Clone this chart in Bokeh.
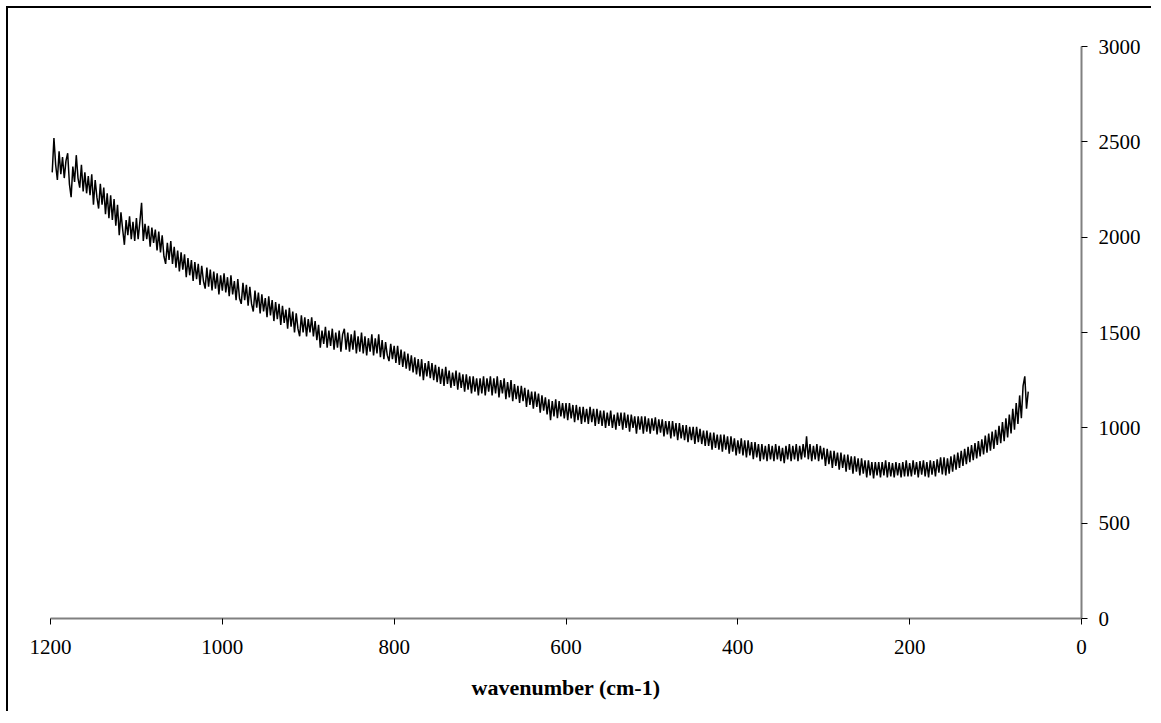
from bokeh.plotting import figure
from bokeh.models import Range1d, FixedTicker
from bokeh.embed import file_html
from bokeh.resources import INLINE

# wavenumber samples (cm-1), descending, every 2 cm-1 from 1198 to 62
wavenumber = list(range(1198, 61, -2))

# intensity
intensity = [
    # 1198 .. 1100
    2340, 2520, 2380, 2300, 2450, 2330, 2420, 2310, 2400, 2440,
    2280, 2210, 2370, 2290, 2430, 2310, 2260, 2380, 2240, 2340,
    2230, 2320, 2220, 2330, 2170, 2300, 2210, 2150, 2280, 2170,
    2260, 2120, 2230, 2100, 2220, 2090, 2200, 2060, 2170, 2010,
    2130, 2040, 1960, 2090, 2010, 2110, 1990, 2080, 1980, 2100,
    # 1098 .. 1000
    1990, 2080, 2180, 1980, 2070, 1990, 2060, 1950, 2050, 1970,
    2040, 1930, 2030, 1920, 2010, 1900, 1860, 1970, 1880, 1980,
    1860, 1950, 1840, 1930, 1820, 1920, 1830, 1910, 1790, 1890,
    1800, 1880, 1770, 1870, 1780, 1860, 1750, 1850, 1770, 1730,
    1840, 1740, 1830, 1720, 1820, 1730, 1810, 1700, 1800, 1720,
    # 998 .. 900
    1810, 1710, 1790, 1690, 1800, 1700, 1770, 1670, 1780, 1680,
    1650, 1760, 1670, 1750, 1640, 1740, 1650, 1610, 1720, 1630,
    1710, 1600, 1700, 1610, 1680, 1580, 1690, 1590, 1670, 1560,
    1660, 1570, 1650, 1540, 1640, 1550, 1620, 1520, 1630, 1530,
    1610, 1500, 1600, 1520, 1480, 1590, 1500, 1580, 1480, 1570,
    # 898 .. 800
    1500, 1580, 1480, 1560, 1460, 1540, 1420, 1510, 1440, 1530,
    1420, 1510, 1430, 1520, 1410, 1500, 1420, 1510, 1400, 1490,
    1520, 1410, 1500, 1400, 1490, 1410, 1510, 1390, 1480, 1400,
    1500, 1390, 1480, 1380, 1470, 1400, 1490, 1380, 1470, 1390,
    1490, 1370, 1460, 1360, 1450, 1380, 1350, 1440, 1360, 1430,
    # 798 .. 700
    1340, 1430, 1330, 1410, 1320, 1400, 1310, 1390, 1300, 1380,
    1290, 1370, 1280, 1360, 1270, 1360, 1250, 1340, 1270, 1350,
    1260, 1340, 1250, 1330, 1240, 1320, 1230, 1310, 1220, 1320,
    1230, 1300, 1210, 1290, 1220, 1300, 1200, 1290, 1210, 1280,
    1190, 1280, 1200, 1270, 1180, 1270, 1190, 1260, 1170, 1260,
    # 698 .. 600
    1180, 1270, 1170, 1260, 1190, 1270, 1170, 1260, 1180, 1270,
    1160, 1250, 1180, 1260, 1150, 1240, 1160, 1250, 1140, 1230,
    1150, 1220, 1130, 1220, 1140, 1210, 1110, 1200, 1120, 1190,
    1100, 1190, 1110, 1180, 1080, 1170, 1090, 1160, 1070, 1150,
    1040, 1140, 1060, 1150, 1050, 1140, 1060, 1130, 1050, 1130,
    # 598 .. 500
    1040, 1130, 1050, 1120, 1030, 1120, 1040, 1110, 1020, 1110,
    1030, 1100, 1020, 1110, 1030, 1100, 1010, 1100, 1020, 1090,
    1010, 1090, 1000, 1080, 1010, 1090, 1000, 1070, 990, 1080,
    1010, 1080, 990, 1080, 1000, 1070, 980, 1070, 1000, 1060,
    970, 1060, 990, 1060, 970, 1060, 980, 1050, 970, 1050,
    # 498 .. 400
    985, 1055, 965, 1045, 975, 1045, 955, 1035, 965, 1035,
    945, 1035, 955, 1025, 935, 1025, 945, 1015, 935, 1015,
    925, 1005, 935, 1005, 915, 1005, 925, 995, 915, 985,
    905, 985, 905, 975, 885, 975, 895, 965, 885, 965,
    875, 965, 885, 955, 865, 955, 875, 945, 855, 935,
    # 398 .. 300
    865, 945, 855, 935, 845, 935, 855, 925, 835, 925,
    845, 915, 825, 915, 835, 905, 825, 915, 835, 905,
    825, 915, 835, 905, 825, 895, 815, 905, 835, 915,
    825, 905, 835, 915, 825, 905, 835, 915, 845, 955,
    835, 915, 825, 905, 835, 915, 825, 905, 835, 895,
    # 298 .. 200
    800, 890, 810, 880, 790, 880, 800, 870, 780, 870,
    790, 860, 770, 860, 780, 850, 760, 850, 770, 840,
    750, 840, 760, 830, 740, 830, 750, 820, 735, 820,
    750, 820, 740, 820, 750, 830, 740, 820, 745, 815,
    740, 820, 750, 815, 740, 820, 745, 830, 745, 815,
    # 198 .. 100
    745, 830, 755, 820, 740, 825, 755, 830, 745, 820,
    740, 830, 755, 825, 745, 835, 765, 845, 755, 845,
    750, 840, 760, 850, 770, 860, 780, 870, 790, 880,
    800, 890, 810, 900, 820, 910, 830, 920, 840, 930,
    850, 940, 860, 960, 870, 970, 880, 980, 890, 990,
    # 98 .. 62
    910, 1010, 920, 1030, 930, 1050, 950, 1070, 970, 1100,
    990, 1130, 1020, 1170, 1050, 1220, 1270, 1100, 1190,
]

x_ticks = [0, 200, 400, 600, 800, 1000, 1200]
y_ticks = [0, 500, 1000, 1500, 2000, 2500, 3000]
x_title = "wavenumber (cm-1)"

p = figure(
    width=1145, height=705,
    output_backend="svg", toolbar_location=None,
    x_range=Range1d(1200, 0), y_range=Range1d(0, 3000),
    x_axis_location="below", y_axis_location="right",
    min_border_left=42, min_border_right=72,
    min_border_top=38, min_border_bottom=95,
)
p.styles = {
    "border-left": "2px solid black",
    "border-top": "2px solid black",
    "margin-left": "6px",
    "margin-top": "6px",
}
p.outline_line_color = None
p.xgrid.visible = False
p.ygrid.visible = False
p.background_fill_color = "white"
p.border_fill_color = "white"

p.line(wavenumber, intensity, line_color="black", line_width=1.5)

for ax in (p.xaxis[0], p.yaxis[0]):
    ax.axis_line_color = "#808080"
    ax.axis_line_width = 2
    ax.major_tick_line_color = "black"
    ax.major_tick_line_width = 1
    ax.major_tick_out = 6
    ax.major_tick_in = 0
    ax.minor_tick_line_color = None
    ax.major_label_text_font = "Liberation Serif"
    ax.major_label_text_font_size = "21px"
    ax.major_label_text_color = "black"

p.xaxis[0].ticker = FixedTicker(ticks=x_ticks)
p.yaxis[0].ticker = FixedTicker(ticks=y_ticks)
p.xaxis[0].major_label_standoff = 15
p.yaxis[0].major_label_standoff = 11

p.xaxis[0].axis_label = x_title
p.xaxis[0].axis_label_text_font = "Liberation Serif"
p.xaxis[0].axis_label_text_font_style = "bold"
p.xaxis[0].axis_label_text_font_size = "22px"
p.xaxis[0].axis_label_text_color = "black"
p.xaxis[0].axis_label_standoff = 18

open("out.html", "w").write(file_html(p, INLINE))
